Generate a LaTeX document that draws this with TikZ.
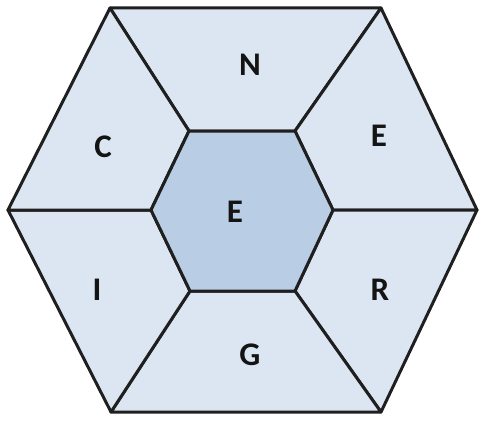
\documentclass[tikz,border=0pt]{standalone}
\usepackage{fontspec}
\setmainfont{Carlito}
\definecolor{outerfill}{HTML}{DCE6F2}
\definecolor{innerfill}{HTML}{B9CDE5}
\begin{document}
\begin{tikzpicture}[x=1pt,y=-1pt,
  seg/.style={draw=black!88, line width=3pt, line join=round, fill=outerfill},
  core/.style={draw=black!88, line width=3pt, line join=round, fill=innerfill},
  lbl/.style={font=\fontsize{33}{33}\selectfont\bfseries, text=black!92}]
\useasboundingbox (0,0) rectangle (481,420);
% outer vertices
\coordinate (OL) at (8,210);
\coordinate (OTL) at (110,8);
\coordinate (OTR) at (381,8);
\coordinate (OR) at (477,210);
\coordinate (OBR) at (381,412);
\coordinate (OBL) at (111,412);
% inner vertices
\coordinate (IL) at (151,210);
\coordinate (ITL) at (189,131);
\coordinate (ITR) at (295,131);
\coordinate (IR) at (333,210);
\coordinate (IBR) at (295,291);
\coordinate (IBL) at (190,291);
% segments
\path[seg] (OTL) -- (OTR) -- (ITR) -- (ITL) -- cycle;
\path[seg] (OTR) -- (OR) -- (IR) -- (ITR) -- cycle;
\path[seg] (OR) -- (OBR) -- (IBR) -- (IR) -- cycle;
\path[seg] (OBR) -- (OBL) -- (IBL) -- (IBR) -- cycle;
\path[seg] (OBL) -- (OL) -- (IL) -- (IBL) -- cycle;
\path[seg] (OL) -- (OTL) -- (ITL) -- (IL) -- cycle;
\path[core] (IL) -- (ITL) -- (ITR) -- (IR) -- (IBR) -- (IBL) -- cycle;
% labels
\node[lbl] (n) at (250,65) {N};
\node[lbl] (e1) at (379,136) {E};
\node[lbl] (r) at (380,290) {R};
\node[lbl] (g) at (250,355) {G};
\node[lbl] (i) at (97,290) {I};
\node[lbl] (c) at (103,147) {C};
\node[lbl] (e0) at (235,212) {E};
\end{tikzpicture}
\end{document}
